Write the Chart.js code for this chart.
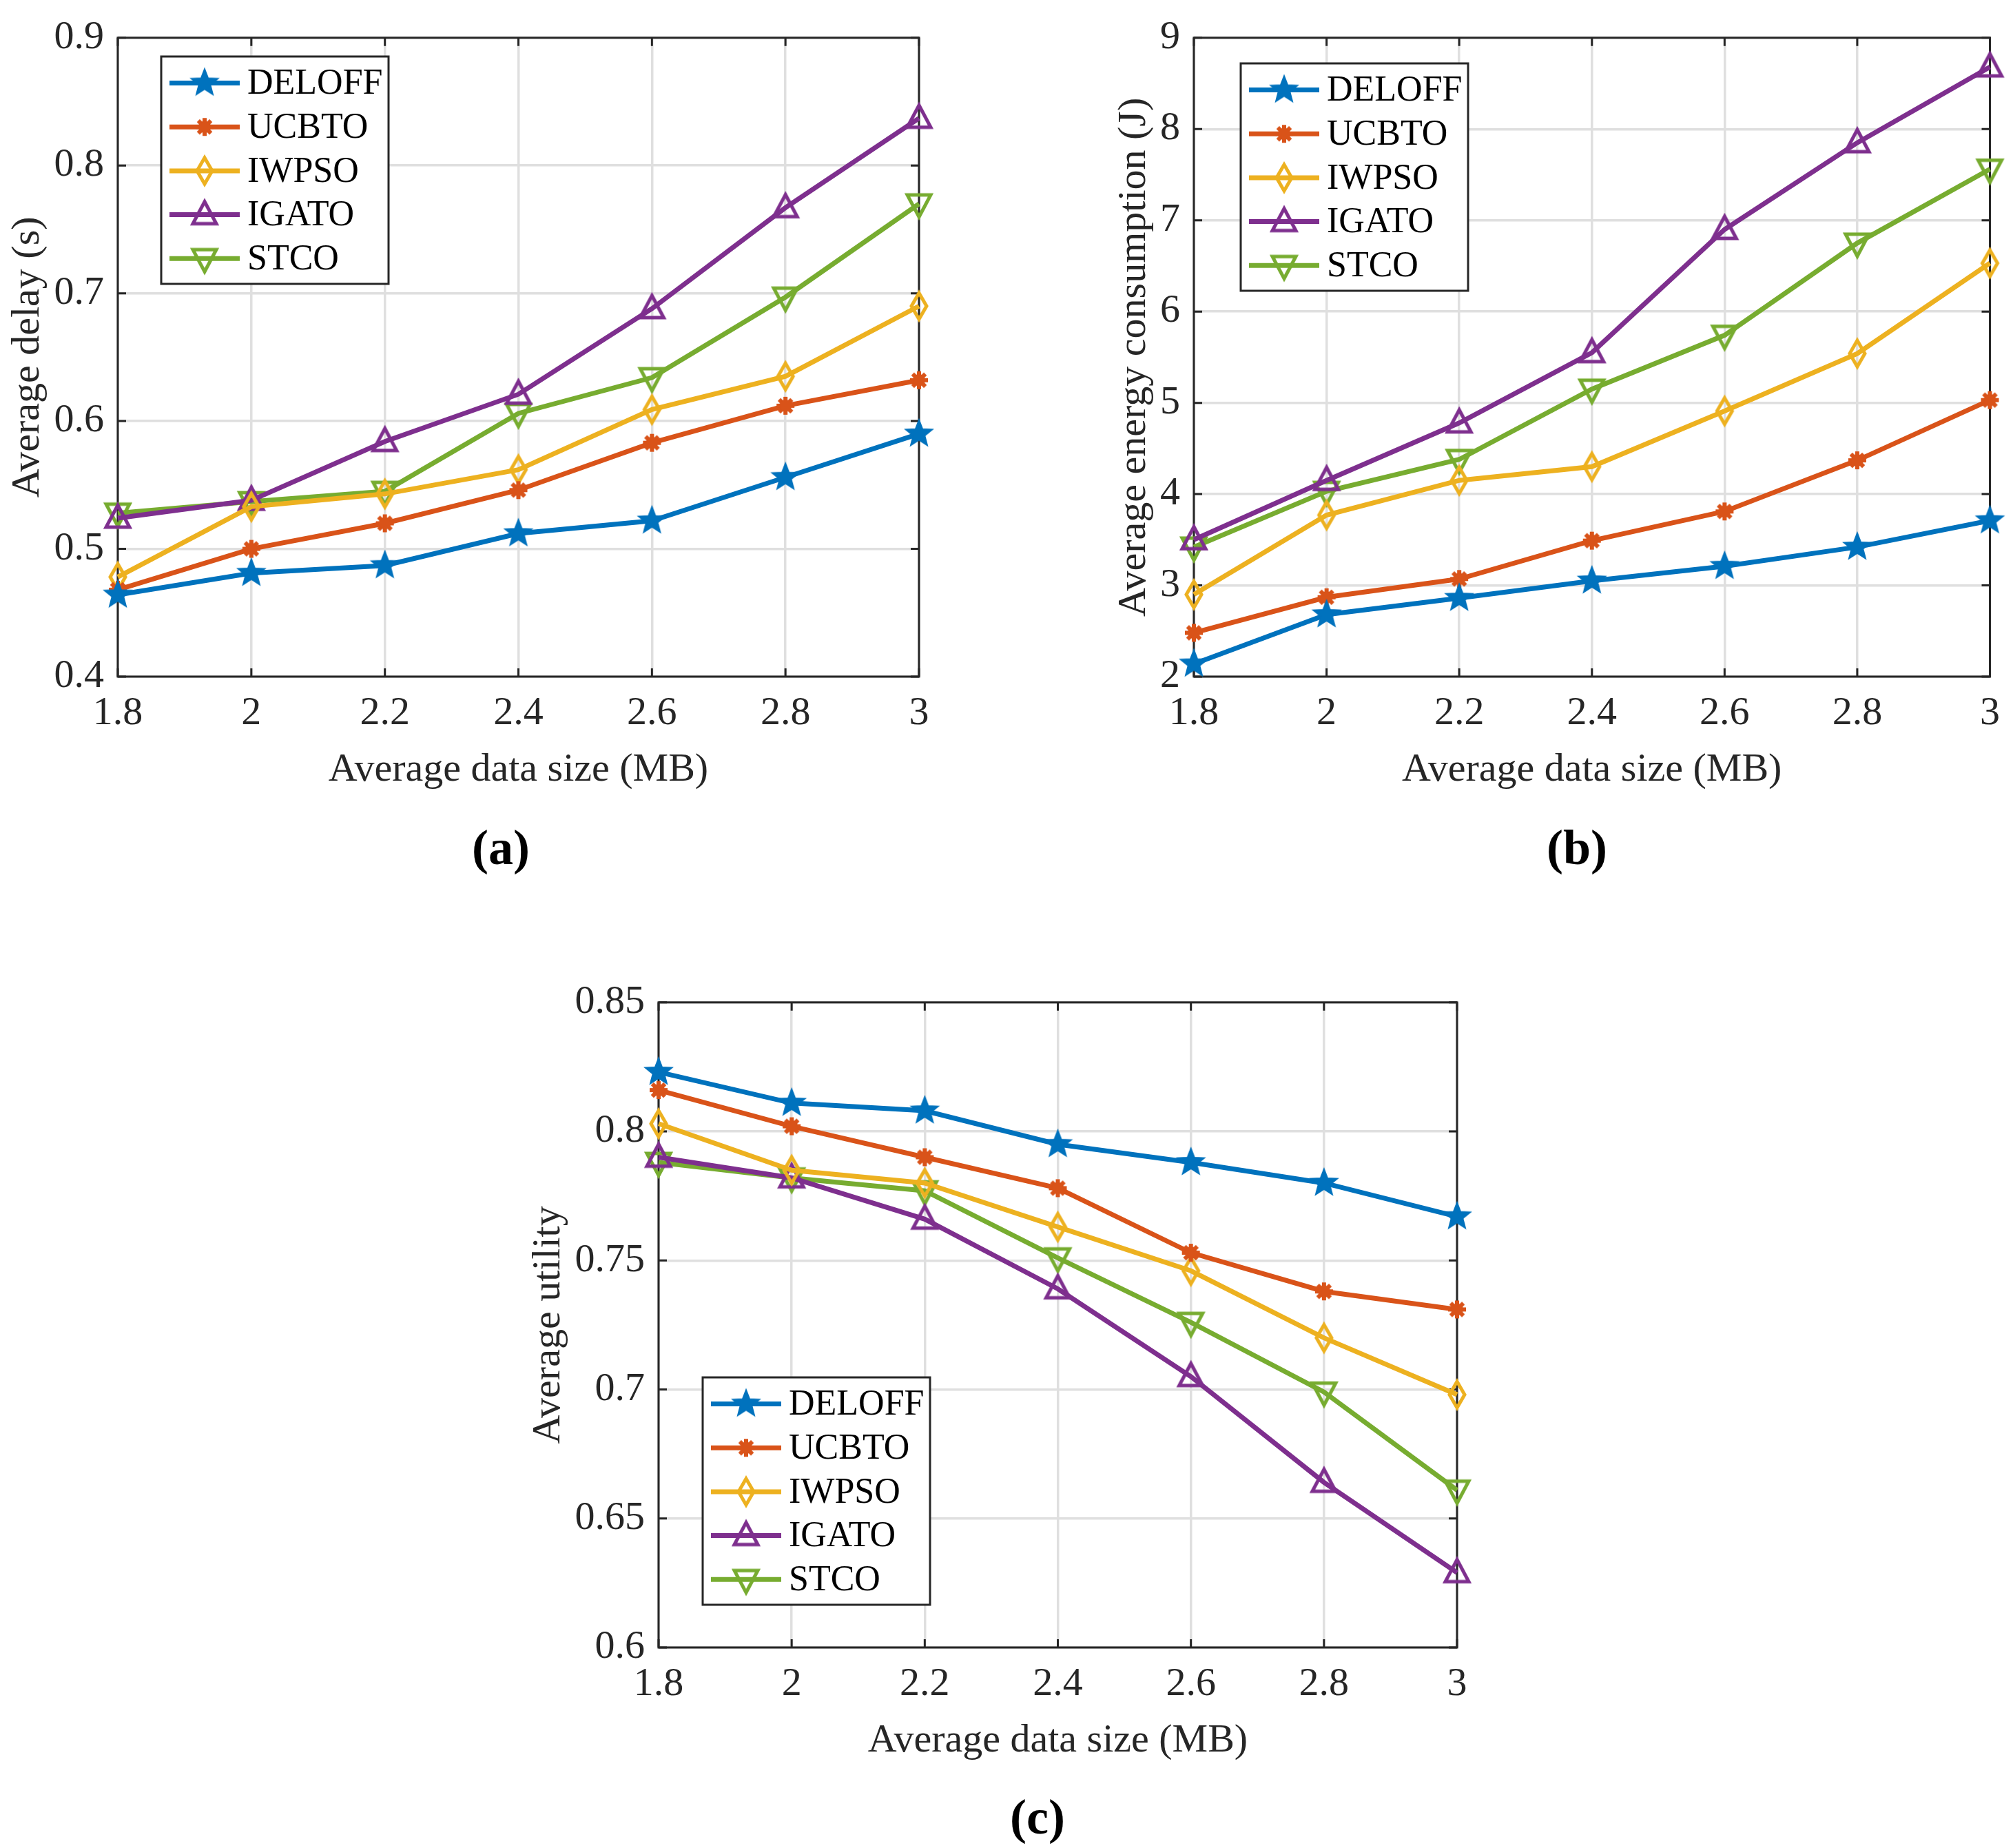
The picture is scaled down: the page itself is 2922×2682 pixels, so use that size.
<!DOCTYPE html>
<html>
<head>
<meta charset="utf-8">
<script src="https://cdn.jsdelivr.net/npm/chart.js@4.4.1/dist/chart.umd.min.js"></script>
<style>
  html, body { margin: 0; padding: 0; background: #fff; }
  body { width: 2922px; height: 2682px; position: relative; overflow: hidden; }
  canvas { position: absolute; }
  .panel {
    position: absolute;
    font: bold 72px "Liberation Serif", "DejaVu Serif", serif;
    color: #000;
    transform: translate(-50%, -50%);
  }
</style>
</head>
<body>
<canvas id="chartA" width="1461" height="1180" style="left:0px;top:0px"></canvas>
<canvas id="chartB" width="1461" height="1180" style="left:1461px;top:0px"></canvas>
<canvas id="chartC" width="1600" height="1282" style="left:700px;top:1400px"></canvas>
<div class="panel" style="left:727px;top:1230px">(a)</div>
<div class="panel" style="left:2289px;top:1230px">(b)</div>
<div class="panel" style="left:1506px;top:2637px">(c)</div>

<script>
Chart.defaults.font.family = "'Liberation Serif', 'DejaVu Serif', serif";
Chart.defaults.color = '#262626';

// x axis: average data size (MB)
const dataSizes = ['1.8', '2', '2.2', '2.4', '2.6', '2.8', '3'];
const seriesNames = ['DELOFF', 'UCBTO', 'IWPSO', 'IGATO', 'STCO'];
const seriesColors = ['#0072BD', '#D95319', '#EDB120', '#7E2F8E', '#77AC30'];

// (a) average delay (s)
const delayDELOFF = [0.464, 0.481, 0.487, 0.512, 0.522, 0.556, 0.590];
const delayUCBTO  = [0.468, 0.500, 0.520, 0.546, 0.583, 0.612, 0.632];
const delayIWPSO  = [0.478, 0.533, 0.543, 0.562, 0.609, 0.635, 0.690];
const delayIGATO  = [0.524, 0.538, 0.584, 0.621, 0.688, 0.767, 0.837];
const delaySTCO   = [0.528, 0.537, 0.545, 0.606, 0.634, 0.697, 0.770];

// (b) average energy consumption (J)
const energyDELOFF = [2.14, 2.68, 2.86, 3.05, 3.21, 3.42, 3.71];
const energyUCBTO  = [2.48, 2.87, 3.07, 3.49, 3.81, 4.37, 5.03];
const energyIWPSO  = [2.90, 3.77, 4.15, 4.30, 4.91, 5.54, 6.53];
const energyIGATO  = [3.50, 4.15, 4.78, 5.55, 6.90, 7.85, 8.68];
const energySTCO   = [3.42, 4.03, 4.38, 5.15, 5.74, 6.75, 7.56];

// (c) average utility
const utilDELOFF = [0.823, 0.811, 0.808, 0.795, 0.788, 0.780, 0.767];
const utilUCBTO  = [0.816, 0.802, 0.790, 0.778, 0.753, 0.738, 0.731];
const utilIWPSO  = [0.803, 0.785, 0.780, 0.763, 0.746, 0.720, 0.698];
const utilIGATO  = [0.790, 0.782, 0.766, 0.739, 0.705, 0.664, 0.629];
const utilSTCO   = [0.788, 0.782, 0.777, 0.751, 0.726, 0.699, 0.661];

// matlab style markers drawn on small canvases
function makeMarker(kind, color) {
  const s = 56, c = s / 2;
  const cv = document.createElement('canvas');
  cv.width = s; cv.height = s;
  const g = cv.getContext('2d');
  g.strokeStyle = color;
  g.fillStyle = color;
  g.lineWidth = 5;
  g.lineJoin = 'miter';
  g.beginPath();
  if (kind === 'star') {
    for (let i = 0; i < 10; i++) {
      const r = (i % 2) ? 9 : 21;
      const a = -Math.PI / 2 + i * Math.PI / 5;
      const px = c + r * Math.cos(a), py = c + r * Math.sin(a);
      if (i === 0) g.moveTo(px, py); else g.lineTo(px, py);
    }
    g.closePath();
    g.fill();
    g.lineWidth = 1.5;
    g.stroke();
  } else if (kind === 'asterisk') {
    g.lineWidth = 6;
    for (let i = 0; i < 4; i++) {
      const a = i * Math.PI / 4;
      g.moveTo(c - 13 * Math.cos(a), c - 13 * Math.sin(a));
      g.lineTo(c + 13 * Math.cos(a), c + 13 * Math.sin(a));
    }
    g.stroke();
    g.beginPath();
    g.arc(c, c, 9, 0, Math.PI * 2);
    g.fill();
  } else if (kind === 'diamond') {
    g.moveTo(c, c - 19);
    g.lineTo(c + 11, c);
    g.lineTo(c, c + 19);
    g.lineTo(c - 11, c);
    g.closePath();
    g.stroke();
  } else if (kind === 'triUp') {
    g.moveTo(c, c - 19);
    g.lineTo(c + 17, c + 13);
    g.lineTo(c - 17, c + 13);
    g.closePath();
    g.stroke();
  } else if (kind === 'triDown') {
    g.moveTo(c, c + 19);
    g.lineTo(c + 17, c - 13);
    g.lineTo(c - 17, c - 13);
    g.closePath();
    g.stroke();
  }
  return cv;
}

const markerKinds = ['star', 'asterisk', 'diamond', 'triUp', 'triDown'];
const markers = markerKinds.map((k, i) => makeMarker(k, seriesColors[i]));

// box around plot area + inward ticks, like matlab axes
const matlabFrame = {
  id: 'matlabFrame',
  beforeDatasetsDraw(chart) {
    const { ctx, chartArea: { left, right, top, bottom } } = chart;
    const xs = chart.scales.x, ys = chart.scales.y;
    const tl = 12;
    ctx.save();
    ctx.strokeStyle = '#262626';
    ctx.lineWidth = 3;
    ctx.beginPath();
    xs.ticks.forEach((t, i) => {
      const px = xs.getPixelForTick(i);
      ctx.moveTo(px, bottom); ctx.lineTo(px, bottom - tl);
      ctx.moveTo(px, top); ctx.lineTo(px, top + tl);
    });
    ys.ticks.forEach((t, i) => {
      const py = ys.getPixelForTick(i);
      ctx.moveTo(left, py); ctx.lineTo(left + tl, py);
      ctx.moveTo(right, py); ctx.lineTo(right - tl, py);
    });
    ctx.stroke();
    ctx.strokeRect(left, top, right - left, bottom - top);
    ctx.restore();
  }
};

// legend box placed at a fixed spot inside the axes
const boxLegend = {
  id: 'boxLegend',
  afterDatasetsDraw(chart, args, opts) {
    const { ctx } = chart;
    const { x, y, w, h } = opts;
    ctx.save();
    ctx.fillStyle = '#fff';
    ctx.fillRect(x, y, w, h);
    ctx.strokeStyle = '#262626';
    ctx.lineWidth = 3;
    ctx.strokeRect(x, y, w, h);
    ctx.font = "52px 'Liberation Serif', 'DejaVu Serif', serif";
    ctx.textBaseline = 'middle';
    ctx.textAlign = 'left';
    chart.data.datasets.forEach((ds, i) => {
      const ry = y + 38.5 + i * 63.7;
      ctx.strokeStyle = ds.borderColor;
      ctx.lineWidth = 7;
      ctx.beginPath();
      ctx.moveTo(x + 12, ry);
      ctx.lineTo(x + 114, ry);
      ctx.stroke();
      const m = ds.pointStyle;
      ctx.drawImage(m, x + 63 - m.width / 2, ry - m.height / 2);
      ctx.fillStyle = '#000';
      ctx.fillText(ds.label, x + 125, ry + 2);
    });
    ctx.restore();
  }
};

function fmt(v) {
  return String(parseFloat(Number(v).toFixed(3)));
}

function makeChart(canvasId, series, yTitle, yMin, yMax, yStep, pad, yWidth, legendBox) {
  return new Chart(document.getElementById(canvasId), {
    type: 'line',
    data: {
      labels: dataSizes,
      datasets: series.map((vals, i) => ({
        label: seriesNames[i],
        data: vals,
        borderColor: seriesColors[i],
        backgroundColor: seriesColors[i],
        borderWidth: 7,
        pointStyle: markers[i],
        pointRadius: 20,
        tension: 0,
        fill: false,
        clip: false
      }))
    },
    plugins: [matlabFrame, boxLegend],
    options: {
      responsive: false,
      animation: false,
      layout: { padding: pad },
      plugins: {
        legend: { display: false },
        tooltip: { enabled: false },
        boxLegend: legendBox
      },
      scales: {
        x: {
          type: 'category',
          offset: false,
          grid: { color: '#dfdfdf', lineWidth: 3.5, drawTicks: false },
          border: { display: false },
          ticks: { padding: 19, maxRotation: 0, autoSkip: false, font: { size: 58 }, color: '#262626' },
          title: { display: true, text: 'Average data size (MB)', font: { size: 58 }, color: '#262626', padding: 0 },
          afterFit: (s) => { s.height = 171; }
        },
        y: {
          type: 'linear',
          min: yMin,
          max: yMax,
          grid: { color: '#dfdfdf', lineWidth: 3.5, drawTicks: false },
          border: { display: false },
          ticks: { stepSize: yStep, padding: 20, font: { size: 58 }, color: '#262626', callback: fmt },
          title: { display: true, text: yTitle, font: { size: 58 }, color: '#262626', padding: { top: 6, bottom: 0 } },
          afterFit: (s) => { s.width = yWidth; }
        }
      }
    }
  });
}

makeChart('chartA',
  [delayDELOFF, delayUCBTO, delayIWPSO, delayIGATO, delaySTCO],
  'Average delay (s)', 0.4, 0.9, 0.1,
  { left: 0, top: 39, right: 127, bottom: 27 }, 171,
  { x: 234, y: 82, w: 330, h: 330 });

makeChart('chartB',
  [energyDELOFF, energyUCBTO, energyIWPSO, energyIGATO, energySTCO],
  'Average energy consumption (J)', 2, 9, 1,
  { left: 145, top: 39, right: 24, bottom: 27 }, 127,
  { x: 340, y: 92, w: 330, h: 330 });

makeChart('chartC',
  [utilDELOFF, utilUCBTO, utilIWPSO, utilIGATO, utilSTCO],
  'Average utility', 0.6, 0.85, 0.05,
  { left: 56, top: 48, right: 185, bottom: 120 }, 200,
  { x: 320, y: 599, w: 330, h: 330 });
</script>
</body>
</html>
